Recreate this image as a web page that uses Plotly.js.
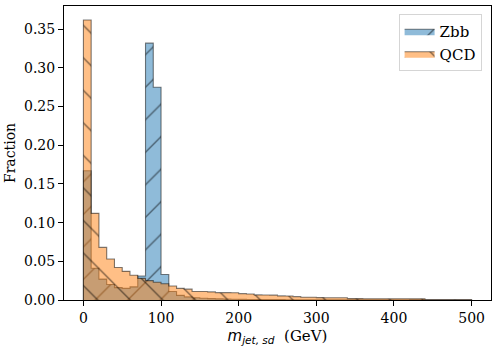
<!DOCTYPE html>
<html>
<head>
<meta charset="utf-8">
<script src="https://cdn.plot.ly/plotly-3.0.1.min.js"></script>
<style>html,body{margin:0;padding:0;background:#fff;}#chart{width:496px;height:352px;}</style>
</head>
<body>
<div id="chart"></div>
<script>
// Bin edges (GeV) of the soft-drop jet mass histogram
const binEdges = [0,10,20,30,40,50,60,70,80,90,100,110,120,130,140,150,160,170,180,190,200,
  210,220,230,240,250,260,270,280,290,300,310,320,330,340,350,360,370,380,390,400,
  410,420,430,440,450,460,470,480,490,500];

// Fraction per bin, Zbb
const zbbFrac = [0.167,0.041,0.027,0.020,0.016,0.015,0.017,0.031,0.332,0.275,
  0.033,0.011,0.006,0.004,0.003,0.0022,0.0018,0.0015,0.0012,0.0010,
  0.0008,0.0007,0.0006,0.0006,0.0005,0.0005,0.0004,0.0004,0.0004,0.0003,
  0.0003,0.0003,0.0003,0.0002,0.0002,0.0002,0.0002,0.0002,0.0002,0.0002,
  0.0001,0.0001,0.0001,0.0001,0.0001,0.0001,0.0001,0.0001,0.0001,0.0001];

// Fraction per bin, QCD
const qcdFrac = [0.362,0.112,0.068,0.053,0.042,0.037,0.032,0.028,0.025,0.023,
  0.021,0.018,0.015,0.014,0.011,0.011,0.0105,0.0095,0.0095,0.0093,
  0.0082,0.0078,0.0066,0.0065,0.0063,0.0053,0.0052,0.0043,0.0036,0.0035,
  0.0031,0.0030,0.0030,0.0029,0.0018,0.0018,0.0017,0.0017,0.0017,0.0016,
  0.0016,0.0016,0.0015,0.0015,0.0004,0.0004,0.0003,0.0003,0.0003,0.0003];

const seriesNames = ['Zbb','QCD'];
const xTickVals = [0,100,200,300,400,500];
const yTickVals = [0,0.05,0.10,0.15,0.20,0.25,0.30,0.35];

// build a stepfilled outline (matplotlib histtype='stepfilled')
function stepXY(edges, vals){
  const x = [edges[0]], y = [0];
  for (let i = 0; i < vals.length; i++){ x.push(edges[i]); y.push(vals[i]); }
  x.push(edges[edges.length-1]); y.push(vals[vals.length-1]);
  x.push(edges[edges.length-1]); y.push(0);
  return {x, y};
}

const serif = 'DejaVu Serif, serif';
const zs = stepXY(binEdges, zbbFrac);
const qs = stepXY(binEdges, qcdFrac);

function trace(s, name, rgb, shape){
  return {
    type:'scatter', mode:'lines', name:name,
    x:s.x, y:s.y,
    line:{shape:'hv', color:'rgba(0,0,0,0.5)', width:1.1},
    fill:'tozeroy',
    fillcolor:'rgba('+rgb+',0.5)',
    fillpattern:{shape:shape, bgcolor:'rgba('+rgb+',0.5)', fgcolor:'rgba(0,0,0,0.5)', size:23, solidity:0.06},
    hoverinfo:'skip'
  };
}

const data = [
  trace(zs, seriesNames[0], '31,119,180', '/'),
  trace(qs, seriesNames[1], '255,127,14', '\\')
];

const layout = {
  width:496, height:352,
  margin:{l:64, r:5, t:6, b:52},
  paper_bgcolor:'#fff', plot_bgcolor:'#fff',
  font:{family:serif, size:13, color:'#000'},
  showlegend:true,
  legend:{x:0.978, xanchor:'right', y:0.973, yanchor:'top',
    bgcolor:'rgba(255,255,255,0.8)', bordercolor:'#d5d5d5', borderwidth:1,
    font:{family:serif, size:15, color:'#000'}, itemwidth:30, tracegroupgap:4},
  xaxis:{range:[-25,525], tickvals:xTickVals, ticktext:xTickVals.map(String),
    ticks:'outside', ticklen:5, tickwidth:1, tickcolor:'#000',
    showline:true, mirror:true, linecolor:'#000', linewidth:1,
    showgrid:false, zeroline:false,
    tickfont:{family:serif, size:14},
    title:{text:'<span style="font-family:DejaVu Sans"><i>m</i><sub><i>jet, sd</i></sub></span>\u00a0\u00a0(GeV)',
      font:{family:serif, size:15}, standoff:5}},
  yaxis:{range:[0,0.380], tickvals:yTickVals, tickformat:'.2f',
    ticks:'outside', ticklen:5, tickwidth:1, tickcolor:'#000',
    showline:true, mirror:true, linecolor:'#000', linewidth:1,
    showgrid:false, zeroline:false,
    tickfont:{family:serif, size:14},
    title:{text:'Fraction', font:{family:serif, size:14}, standoff:5}}
};

Plotly.newPlot('chart', data, layout, {staticPlot:true, displayModeBar:false});
</script>
</body>
</html>
